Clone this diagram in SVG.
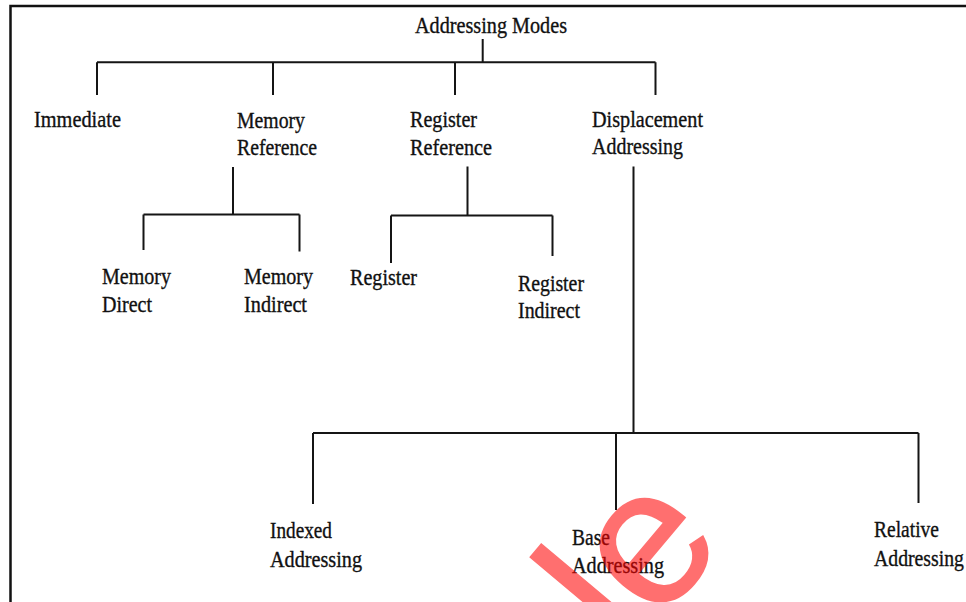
<svg xmlns="http://www.w3.org/2000/svg" width="966" height="602" viewBox="0 0 966 602">
<style>
  .t { font-family: "Liberation Serif", "Times New Roman", serif; font-size: 23px; fill: #111; stroke: #111; stroke-width: 0.35px; }
  .ln { fill: none; stroke: #151515; stroke-width: 2; }
  .frame { fill: none; stroke: #111; stroke-width: 2.5; }
  .wm { font-family: "Liberation Sans", Arial, sans-serif; font-size: 195px; fill: #ff0000; stroke: #ff0000; stroke-width: 1.5px; opacity: 0.56; }
</style>
<rect width="966" height="602" fill="#ffffff"/>
<path class="frame" d="M10.5,602 V6 H966"/>

<g id="connectors">
  <path class="ln" d="M482.7,39 V62.3 M97,62.3 H655.5 M97,62.3 V95 M273,62.3 V95 M455,62.3 V95 M655.5,62.3 V95"/>
  <path class="ln" d="M233,167 V214.5 M143.5,214.5 H299.5 M143.5,214.5 V250 M299.5,214.5 V251.5"/>
  <path class="ln" d="M467.5,166.5 V215.5 M391,215.5 H552.5 M391,215.5 V263 M552.5,215.5 V256"/>
  <path class="ln" d="M633.5,166.5 V433 M313,433 H918.5 M313,433 V504 M616,433 V510 M918.5,433 V503"/>
</g>

<g id="addressing-modes">
  <text class="t" x="415" y="33" textLength="152" lengthAdjust="spacingAndGlyphs">Addressing Modes</text>
</g>
<g id="immediate">
  <text class="t" x="34" y="127" textLength="87" lengthAdjust="spacingAndGlyphs">Immediate</text>
</g>
<g id="memory-reference">
  <text class="t" x="237" y="127.5" textLength="68" lengthAdjust="spacingAndGlyphs">Memory</text>
  <text class="t" x="237" y="155" textLength="80" lengthAdjust="spacingAndGlyphs">Reference</text>
</g>
<g id="register-reference">
  <text class="t" x="410" y="127" textLength="67" lengthAdjust="spacingAndGlyphs">Register</text>
  <text class="t" x="410" y="155" textLength="82" lengthAdjust="spacingAndGlyphs">Reference</text>
</g>
<g id="displacement-addressing">
  <text class="t" x="592" y="127" textLength="111" lengthAdjust="spacingAndGlyphs">Displacement</text>
  <text class="t" x="592" y="154" textLength="91" lengthAdjust="spacingAndGlyphs">Addressing</text>
</g>
<g id="memory-direct">
  <text class="t" x="102" y="284" textLength="69" lengthAdjust="spacingAndGlyphs">Memory</text>
  <text class="t" x="102" y="312" textLength="50" lengthAdjust="spacingAndGlyphs">Direct</text>
</g>
<g id="memory-indirect">
  <text class="t" x="244" y="284" textLength="69" lengthAdjust="spacingAndGlyphs">Memory</text>
  <text class="t" x="244" y="312" textLength="63" lengthAdjust="spacingAndGlyphs">Indirect</text>
</g>
<g id="register">
  <text class="t" x="350" y="285" textLength="67" lengthAdjust="spacingAndGlyphs">Register</text>
</g>
<g id="register-indirect">
  <text class="t" x="518" y="291" textLength="66" lengthAdjust="spacingAndGlyphs">Register</text>
  <text class="t" x="518" y="318" textLength="62" lengthAdjust="spacingAndGlyphs">Indirect</text>
</g>
<g id="indexed-addressing">
  <text class="t" x="270" y="538" textLength="62" lengthAdjust="spacingAndGlyphs">Indexed</text>
  <text class="t" x="270" y="566.5" textLength="92" lengthAdjust="spacingAndGlyphs">Addressing</text>
</g>
<g id="base-addressing">
  <text class="t" x="572" y="545" textLength="38" lengthAdjust="spacingAndGlyphs">Base</text>
  <text class="t" x="572" y="573" textLength="92" lengthAdjust="spacingAndGlyphs">Addressing</text>
</g>
<g id="relative-addressing">
  <text class="t" x="874" y="537" textLength="65" lengthAdjust="spacingAndGlyphs">Relative</text>
  <text class="t" x="874" y="565.5" textLength="90" lengthAdjust="spacingAndGlyphs">Addressing</text>
</g>

<text class="wm" transform="translate(630,658) rotate(-50)">le</text>
</svg>
